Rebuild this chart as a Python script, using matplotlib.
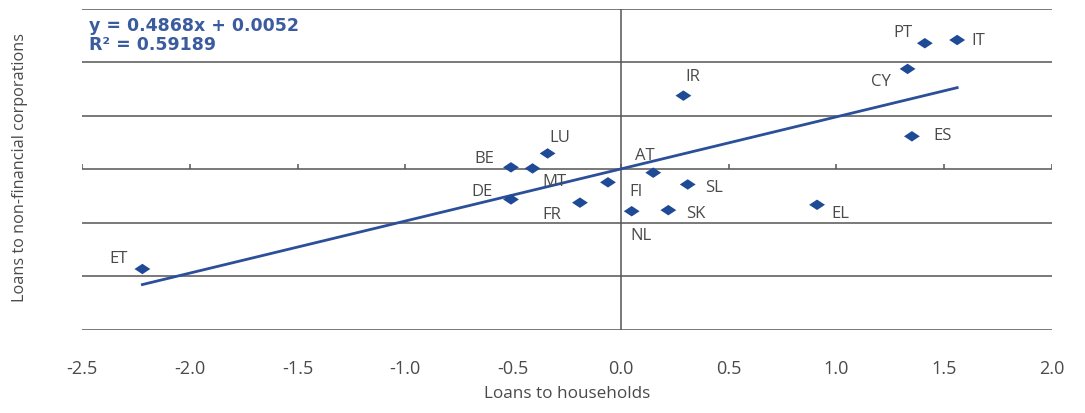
import numpy as np
import matplotlib.pyplot as plt
from matplotlib.path import Path

# ========================================
# DATA
# ========================================
countries = ['PT', 'IT', 'CY', 'IR', 'ES', 'LU', 'BE', 'MT', 'AT',
             'FI', 'SL', 'DE', 'FR', 'NL', 'SK', 'EL', 'ET']
households = [1.41, 1.56, 1.33, 0.29, 1.35, -0.34, -0.51, -0.41, 0.15,
              -0.06, 0.31, -0.51, -0.19, 0.05, 0.22, 0.91, -2.22]
corporations = [1.18, 1.21, 0.94, 0.69, 0.31, 0.15, 0.02, 0.01, -0.03,
                -0.12, -0.14, -0.28, -0.31, -0.39, -0.38, -0.33, -0.93]

# label centre offsets from the marker, in points
label_off = {
    'PT': (-16, 8), 'IT': (15, 0), 'CY': (-19, -9), 'ES': (22, 1),
    'IR': (7, 14), 'LU': (9, 12), 'BE': (-19, 7), 'MT': (16, -9),
    'DE': (-21, 6), 'FR': (-20, -8), 'AT': (-6, 13), 'FI': (20, -6),
    'SL': (19, -2), 'SK': (20, -2), 'NL': (7, -17), 'EL': (17, -6),
    'ET': (-17, 8),
}

slope, intercept, r2 = 0.4868, 0.0052, 0.59189

xticks = np.arange(-2.5, 2.01, 0.5)
ygrid = np.arange(-1.5, 1.51, 0.5)

blue = '#1f4a96'
line_blue = '#2b4f98'
eq_blue = '#3a5c9e'
grey = '#555555'
text_grey = '#4a4a4a'

plt.rcParams['font.family'] = ['Open Sans', 'DejaVu Sans']

# flat diamond marker
diamond = Path([(-1, 0), (0, 0.66), (1, 0), (0, -0.66), (-1, 0)],
               [Path.MOVETO, Path.LINETO, Path.LINETO, Path.LINETO, Path.CLOSEPOLY])

# ========================================
# PLOT
# ========================================
fig = plt.figure(figsize=(10.85, 4.14), dpi=100)
ax = fig.add_axes([0.0756, 0.2005, 0.894, 0.7754])
ax.set_xlim(-2.5, 2.0)
ax.set_ylim(-1.5, 1.5)

for y in ygrid:
    ax.axhline(y, color=grey, lw=1.1, zorder=1)
ax.axvline(0, color=grey, lw=1.1, zorder=1)

# small ticks sitting on the zero line
ax.vlines(xticks, 0, 0.05, color=grey, lw=1.1, zorder=1)

# trend line over the range of the data
xf = np.array([min(households), max(households)])
ax.plot(xf, slope * xf + intercept, color=line_blue, lw=2.0, zorder=2)

ax.scatter(households, corporations, marker=diamond, s=130, color=blue,
           edgecolors='none', zorder=3)

for name, x, y in zip(countries, households, corporations):
    dx, dy = label_off[name]
    ax.annotate(name, (x, y), xytext=(dx, dy), textcoords='offset points',
                ha='center', va='center', fontsize=12, color=text_grey)

# regression equation, top left
eq_font = dict(family='DejaVu Sans', fontsize=12.5, fontweight='bold', color=eq_blue)
ax.text(0.007, 0.935, f'y = {slope}x + {intercept}', transform=ax.transAxes,
        ha='left', va='baseline', **eq_font)
ax.text(0.007, 0.876, f'R² = {r2}', transform=ax.transAxes,
        ha='left', va='baseline', **eq_font)

for s in ax.spines.values():
    s.set_visible(False)
ax.set_yticks([])
ax.set_xticks(xticks)
ax.set_xticklabels([f'{v:.1f}' for v in xticks])
ax.tick_params(axis='x', length=0, pad=21, labelsize=13, labelcolor=text_grey)

ax.set_xlabel('Loans to households', fontsize=12.3, color=text_grey, labelpad=6)
ax.set_ylabel('Loans to non-financial corporations', fontsize=11.7,
              color=text_grey, va='center')
ax.yaxis.set_label_coords(-0.064, 0.51)

fig.savefig('out.png', dpi=100)
